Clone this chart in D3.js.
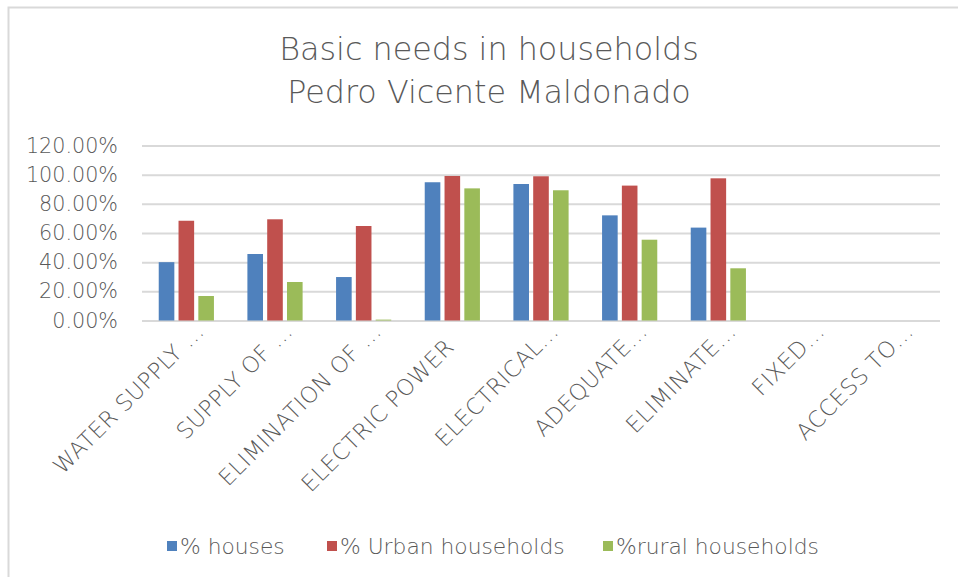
<!DOCTYPE html>
<html>
<head>
<meta charset="utf-8">
<script src="https://cdn.jsdelivr.net/npm/d3@7"></script>
<style>
  body { margin: 0; background: #fff; }
  svg text { font-family: "DejaVu Sans", "Open Sans", sans-serif; font-weight: 200; fill: #595959; }
  svg .cat-label text { letter-spacing: 0.4px; }
</style>
</head>
<body>
<svg id="chart" width="958" height="577"></svg>
<script>
// Category labels along the x axis (long names are shortened with an ellipsis)
const categories = [
  "WATER SUPPLY \u2026",
  "SUPPLY OF \u2026",
  "ELIMINATION OF \u2026",
  "ELECTRIC POWER\u00a0\u00a0\u00a0",
  "ELECTRICAL\u2026",
  "ADEQUATE\u2026",
  "ELIMINATE\u2026",
  "FIXED\u2026",
  "ACCESS TO\u2026"
];

// Series names and values (percent)
const seriesNames = ["% houses", "% Urban households", "%rural households"];
const housesPct = [40.0, 45.6, 29.8, 94.8, 93.6, 72.1, 63.7, 0, 0];
const urbanPct  = [68.4, 69.4, 64.8, 99.1, 98.9, 92.5, 97.5, 0, 0];
const ruralPct  = [16.8, 26.4, 0.6, 90.6, 89.3, 55.4, 35.8, 0, 0];

// Value axis ticks
const yTicks = [0, 20, 40, 60, 80, 100, 120];

const titleLines = ["Basic needs in households", "Pedro Vicente Maldonado"];
const colors = ["#4f81bd", "#c0504d", "#9bbb59"];

const seriesValues = [housesPct, urbanPct, ruralPct];
const rows = categories.map((c, i) => ({
  cat: c,
  values: seriesNames.map((s, k) => ({ series: s, value: seriesValues[k][i] }))
}));

const svg = d3.select("#chart");
const W = 958, H = 577;
const plot = { left: 142, right: 940, top: 145.5, bottom: 320.5 };

svg.append("rect").attr("width", W).attr("height", H).attr("fill", "#fff");

// Outer chart frame
svg.append("rect")
  .attr("x", 8.5).attr("y", 7.5)
  .attr("width", W + 20).attr("height", H + 20)
  .attr("fill", "none").attr("stroke", "#d9d9d9").attr("stroke-width", 2);

// Title
const title = svg.append("text").attr("text-anchor", "middle").style("font-size", "31.8px");
titleLines.forEach((t, i) => {
  title.append("tspan").attr("x", 489).attr("y", 60 + i * 42.5).text(t);
});

const x = d3.scaleBand().domain(categories).range([plot.left, plot.right]).padding(0);
const xInner = d3.scaleBand().domain(seriesNames).range([0, x.bandwidth()])
  .paddingInner(0.212).paddingOuter(0.845);
const y = d3.scaleLinear().domain([0, 120]).range([plot.bottom, plot.top]);

// Gridlines and y labels
const yAxis = d3.axisLeft(y).tickValues(yTicks)
  .tickSize(-(plot.right - plot.left))
  .tickFormat(d => d3.format(".2f")(d) + "%")
  .tickPadding(24);
const gy = svg.append("g").attr("transform", `translate(${plot.left},0)`).call(yAxis);
gy.select(".domain").remove();
gy.selectAll(".tick line").attr("stroke", "#d9d9d9").attr("stroke-width", 2);
gy.selectAll(".tick text").style("font-size", "20.7px").attr("fill", "#595959");

// Bars
const groups = svg.append("g").selectAll("g").data(rows).join("g")
  .attr("transform", d => `translate(${x(d.cat)},0)`);
groups.selectAll("rect").data(d => d.values).join("rect")
  .attr("x", d => xInner(d.series))
  .attr("width", xInner.bandwidth())
  .attr("y", d => y(d.value))
  .attr("height", d => y(0) - y(d.value))
  .attr("fill", (d, i) => colors[i]);

// Category labels, rotated
const xAxis = d3.axisBottom(x).tickSize(0).tickPadding(0);
const gx = svg.append("g").attr("class", "cat-label")
  .attr("transform", `translate(0,${plot.bottom})`).call(xAxis);
gx.select(".domain").remove();
gx.selectAll(".tick text")
  .attr("text-anchor", "end")
  .attr("dy", 0)
  .attr("y", 0)
  .attr("transform", "translate(19,12) rotate(-45)")
  .style("font-size", "22.5px")
  .attr("fill", "#595959")
  .style("white-space", "pre");

// Legend
const legendX = [167, 327, 603];
const legend = svg.append("g").selectAll("g").data(seriesNames).join("g")
  .attr("transform", (d, i) => `translate(${legendX[i]},546)`);
legend.append("rect").attr("x", 0).attr("y", -5).attr("width", 10).attr("height", 10)
  .attr("fill", (d, i) => colors[i]);
legend.append("text").attr("x", 13).attr("dy", "0.35em").style("font-size", "21.8px").text(d => d);
</script>
</body>
</html>
